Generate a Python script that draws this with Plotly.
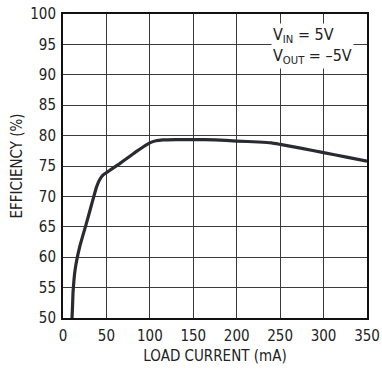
import plotly.graph_objects as go

load_current_ma = [10.4, 11.0, 11.5, 14, 19.2, 27, 33, 38.5, 42, 46, 55, 65.3, 75, 84.6, 93, 100, 107, 115, 130, 150, 175, 200, 225, 240, 250, 275, 300, 325, 350]
efficiency_pct = [50.0, 52.0, 54.1, 58.0, 61.7, 65.6, 68.7, 71.5, 72.7, 73.5, 74.4, 75.4, 76.4, 77.4, 78.2, 78.8, 79.15, 79.3, 79.35, 79.35, 79.3, 79.1, 78.95, 78.8, 78.55, 77.9, 77.2, 76.5, 75.8]

x_ticks = [0, 50, 100, 150, 200, 250, 300, 350]
y_ticks = [50, 55, 60, 65, 70, 75, 80, 85, 90, 95, 100]

FONT = "DejaVu Sans Condensed, Liberation Sans Narrow, sans-serif"

fig = go.Figure()
fig.add_trace(go.Scatter(x=load_current_ma, y=efficiency_pct, mode="lines",
                         line=dict(color="#2a2a33", width=3.2, shape="spline", smoothing=0.3),
                         hoverinfo="skip"))

fig.update_layout(
    width=382, height=369,
    margin=dict(l=63, r=15, t=14, b=51),
    paper_bgcolor="white", plot_bgcolor="white",
    showlegend=False,
    font=dict(family=FONT, size=15, color="#222"),
    xaxis=dict(range=[0, 350], tickvals=x_ticks, showgrid=True, gridcolor="#3a3a3a", gridwidth=1,
               showline=True, linecolor="#111", linewidth=2, mirror=True, ticks="",
               zeroline=False, automargin=False, ticklabelstandoff=3,
               title=dict(text="LOAD CURRENT (mA)", font=dict(size=15), standoff=6)),
    yaxis=dict(range=[50, 100], tickvals=y_ticks, showgrid=True, gridcolor="#3a3a3a", gridwidth=1,
               showline=True, linecolor="#111", linewidth=2, mirror=True, ticks="",
               zeroline=False, automargin=False, ticklabelstandoff=2,
               title=dict(text="EFFICIENCY (%)", font=dict(size=15), standoff=4)),
    annotations=[dict(x=0.684, y=0.972, xref="paper", yref="paper", xanchor="left", yanchor="top",
                      text="V<sub>IN</sub> = 5V<br>V<sub>OUT</sub> = –5V", showarrow=False,
                      align="left", bgcolor="white", font=dict(size=16, color="#222"),
                      borderpad=1)],
)

fig.write_html("out.html", config={"displayModeBar": False},
               post_script="document.body.style.margin='0px';")
